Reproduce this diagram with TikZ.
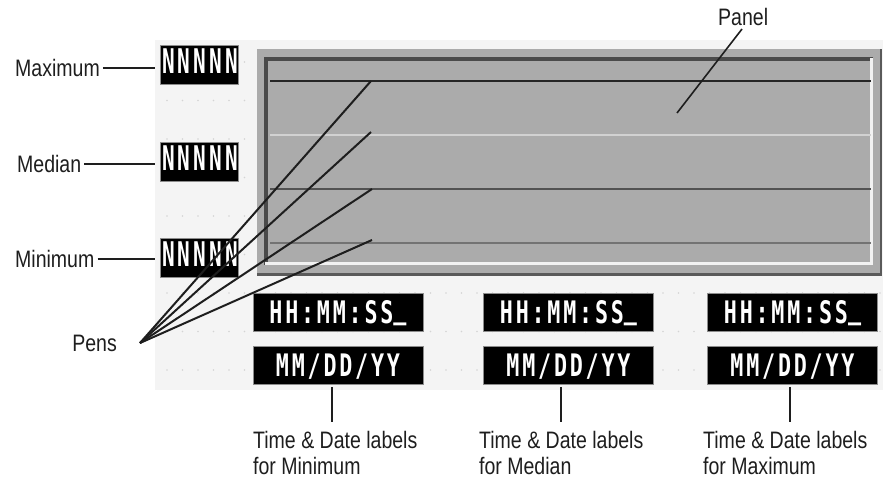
\documentclass[tikz,border=0pt]{standalone}
\usepackage{fontspec}
\setmainfont{Liberation Sans}[FakeStretch=0.82]
\newfontfamily\pixfont{DejaVu Sans Mono}[FakeStretch=0.70, LetterSpace=9]
\newfontfamily\pixfontN{DejaVu Sans Mono}[FakeStretch=0.62, LetterSpace=9]
\definecolor{bgc}{HTML}{F4F4F4}
\definecolor{dotc}{HTML}{D4D4D4}
\definecolor{panelc}{HTML}{ABABAB}
\definecolor{edgec}{HTML}{5A5A5A}
\definecolor{bevc}{HTML}{4A4A4A}
\definecolor{hic}{HTML}{F2F2F2}
\definecolor{txtc}{HTML}{1E1E1E}
\begin{document}
\begin{tikzpicture}[x=1pt,y=-1pt,
  lbl/.style={font=\fontsize{23.8}{26}\selectfont, text=txtc, inner sep=2pt},
  lead/.style={draw=txtc, line width=1.6pt},
  pen/.style={draw=txtc, line width=2pt},
  pixbox/.style={fill=black, draw=black!45, line width=0.8pt, minimum width=170pt,
    minimum height=38pt, inner sep=0pt, text=white,
    font=\pixfont\bfseries\fontsize{31}{30}\selectfont, text height=22.5pt, text depth=0pt},
  nbox/.style={fill=black, draw=black!45, line width=0.8pt, minimum width=78pt,
    minimum height=39pt, inner sep=0pt},
  ntext/.style={inner sep=0pt, text=white, font=\pixfontN\bfseries\fontsize{34}{34}\selectfont}
]
\useasboundingbox (0,0) rectangle (883,483);
\fill[white] (0,0) rectangle (883,483);
\fill[bgc] (155,40) rectangle (883,390);
% grid dots
\foreach \i in {0,...,46} {
  \foreach \j in {0,...,8} {
    \fill[dotc] (167+15.5*\i, 62+38.5*\j) circle (0.8);
  }
}
% panel
\fill[panelc] (257,49) rectangle (882,276);
\fill[edgec] (257,273) rectangle (882,276);
\fill[edgec] (879.5,49) rectangle (882,276);
\fill[bevc] (264,57) rectangle (873,61);
\fill[bevc] (264,57) rectangle (268,265);
\fill[hic] (870,58) rectangle (873,265);
\fill[hic] (265,262) rectangle (873,265);
\draw[line width=1.6pt, color=black!85] (270,81) -- (871,81);
\draw[line width=1.4pt, color=black!18] (270,135) -- (871,135);
\draw[line width=1.3pt, color=black!68] (270,189) -- (871,189);
\draw[line width=1.3pt, color=black!55] (270,243) -- (871,243);

% value boxes
\node[nbox] (maxbox) at (199,64.5) {};
\node[nbox] (medbox) at (199,161.5) {};
\node[nbox] (minbox) at (199,257.5) {};
\begin{scope}
  \clip (maxbox.south west) rectangle (maxbox.north east);
  \node[ntext, anchor=base west] (maxn) at (162,73) {NNNNN};
\end{scope}
\begin{scope}
  \clip (medbox.south west) rectangle (medbox.north east);
  \node[ntext, anchor=base west] (medn) at (162,170) {NNNNN};
\end{scope}
\begin{scope}
  \clip (minbox.south west) rectangle (minbox.north east);
  \node[ntext, anchor=base west] (minn) at (162,266) {NNNNN};
\end{scope}

% left labels
\node[lbl, anchor=base west] (maxlbl) at (13,76.4) {Maximum};
\node[lbl, anchor=base west] (medlbl) at (15,172.4) {Median};
\node[lbl, anchor=base west] (minlbl) at (13,267.4) {Minimum};
\draw[lead, shorten >=5pt, shorten <=1pt] (maxlbl.east) -- (maxlbl.east -| maxbox.west);
\draw[lead, shorten >=5pt, shorten <=1pt] (medlbl.east) -- (medlbl.east -| medbox.west);
\draw[lead, shorten >=5pt, shorten <=1pt] (minlbl.east) -- (minlbl.east -| minbox.west);

% time/date boxes
\node[pixbox] (t1) at (338,312) {HH:MM:SS\raisebox{5pt}{\_}};
\node[pixbox] (t2) at (568.5,312) {HH:MM:SS\raisebox{5pt}{\_}};
\node[pixbox] (t3) at (792.5,312) {HH:MM:SS\raisebox{5pt}{\_}};
\node[pixbox] (d1) at (338,365.5) {MM/DD/YY};
\node[pixbox] (d2) at (568.5,365.5) {MM/DD/YY};
\node[pixbox] (d3) at (792.5,365.5) {MM/DD/YY};

% pens
\coordinate (pf) at (140,343);
\coordinate (p1) at (371,81);
\coordinate (p2) at (371,132);
\coordinate (p3) at (372,189);
\coordinate (p4) at (372,240);
\draw[pen] (pf) -- (p1);
\draw[pen] (pf) -- (p2);
\draw[pen] (pf) -- (p3);
\draw[pen] (pf) -- (p4);
\node[lbl, anchor=east] (pens) at (119,343) {Pens};

% panel label
\node[lbl, anchor=base west] (panellbl) at (716,25) {Panel};
\coordinate (pa) at (742,29);
\coordinate (pb) at (677,113);
\draw[lead] (pa) -- (pb);

% bottom labels
\node[lbl, anchor=north west, align=left, inner sep=0pt] (tdmin) at (253,431) {Time \& Date labels\\for Minimum};
\node[lbl, anchor=north west, align=left, inner sep=0pt] (tdmed) at (479,431) {Time \& Date labels\\for Median};
\node[lbl, anchor=north west, align=left, inner sep=0pt] (tdmax) at (703,431) {Time \& Date labels\\for Maximum};
\coordinate (c1) at (332,0);
\coordinate (c2) at (561,0);
\coordinate (c3) at (790,0);
\draw[lead, shorten <=2pt, shorten >=9pt] (c1 |- d1.south) -- (c1 |- tdmin.north);
\draw[lead, shorten <=2pt, shorten >=9pt] (c2 |- d2.south) -- (c2 |- tdmed.north);
\draw[lead, shorten <=2pt, shorten >=9pt] (c3 |- d3.south) -- (c3 |- tdmax.north);
\end{tikzpicture}
\end{document}
